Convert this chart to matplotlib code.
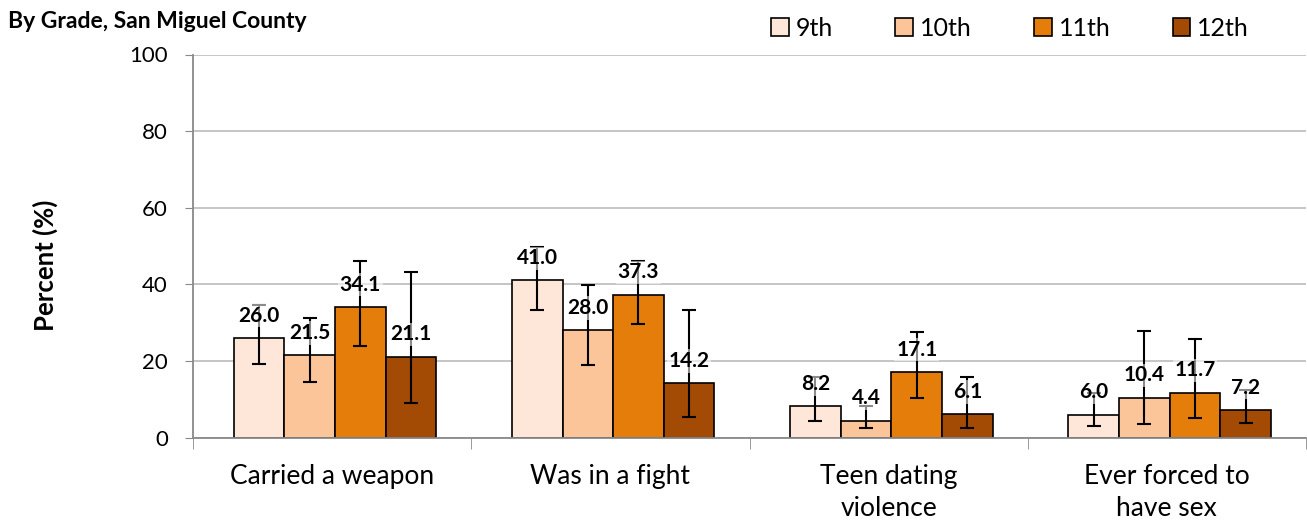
import numpy as np
import matplotlib
matplotlib.use("Agg")
import matplotlib.pyplot as plt
from matplotlib.patches import Patch

plt.rcParams['font.family'] = ['Lato', 'DejaVu Sans']

# data
categories = ["Carried a weapon", "Was in a fight", "Teen dating\nviolence", "Ever forced to\nhave sex"]
grades = ["9th", "10th", "11th", "12th"]
colors = ["#FEE6D9", "#FCC499", "#E47D0A", "#A34A05"]

values = {
    "9th":  [26.0, 41.0, 8.2, 6.0],
    "10th": [21.5, 28.0, 4.4, 10.4],
    "11th": [34.1, 37.3, 17.1, 11.7],
    "12th": [21.1, 14.2, 6.1, 7.2],
}
ci_low = {
    "9th":  [19.3, 33.4, 4.3, 3.0],
    "10th": [14.4, 18.8, 2.4, 3.6],
    "11th": [24.0, 29.7, 10.4, 5.1],
    "12th": [8.9, 5.4, 2.5, 3.7],
}
ci_high = {
    "9th":  [34.5, 49.7, 15.7, 11.5],
    "10th": [31.1, 39.9, 8.2, 27.9],
    "11th": [46.2, 46.0, 27.5, 25.6],
    "12th": [43.1, 33.2, 15.7, 12.3],
}

fig = plt.figure(figsize=(13.07, 5.23), dpi=100)
ax = fig.add_axes([193 / 1307, 1 - 437.5 / 523, 1113 / 1307, 383 / 523])

x = np.arange(len(categories))
w = 0.182
for i, g in enumerate(grades):
    xs = x + (i - 1.5) * w + 0.01
    vals = np.array(values[g])
    lo = vals - np.array(ci_low[g])
    hi = np.array(ci_high[g]) - vals
    ax.bar(xs, vals, w, color=colors[i], edgecolor="black", linewidth=1.2, zorder=2)
    ax.errorbar(xs, vals, yerr=[lo, hi], fmt="none", ecolor="black",
                elinewidth=1.5, capsize=5, capthick=1.5, zorder=3)
    for xv, v in zip(xs, vals):
        ax.annotate(f"{v:.1f}", (xv, v), xytext=(0, 16), textcoords="offset points",
                    ha="center", va="center", fontsize=15, fontweight="bold", zorder=4,
                    bbox=dict(boxstyle="square,pad=0.08", fc="white", ec="none", alpha=0.55))

ax.set_ylim(0, 100)
ax.set_xlim(-0.5, 3.5)
ax.set_yticks([0, 20, 40, 60, 80, 100])
ax.tick_params(axis="y", labelsize=16, length=6, color="#898989", pad=12)
ax.yaxis.grid(True, color="#C0C0C0", linewidth=1.3, zorder=0)
ax.set_axisbelow(True)

ax.set_xticks(x)
ax.set_xticklabels(categories, fontsize=19, linespacing=1.38)
ax.tick_params(axis="x", which="major", length=0, pad=19)
ax.set_xticks(np.arange(-0.5, 4.0, 1.0), minor=True)
ax.tick_params(axis="x", which="minor", length=8, color="#898989")

for s in ["top", "right"]:
    ax.spines[s].set_visible(False)
for s in ["left", "bottom"]:
    ax.spines[s].set_color("#898989")
    ax.spines[s].set_linewidth(1.3)

fig.text(45 / 1307, 1 - 265 / 523, "Percent (%)", rotation=90, ha="center", va="center",
         fontsize=18.5, fontweight="bold")
fig.text(8 / 1307, 1 - 22 / 523, "By Grade, San Miguel County", ha="left", va="center",
         fontsize=16.5, fontweight="bold")

handles = [Patch(facecolor=c, edgecolor="black", linewidth=1.2) for c in colors]
fig.legend(handles, grades, loc="center left", bbox_to_anchor=(771 / 1307, 1 - 28 / 523),
           ncol=4, frameon=False, fontsize=18, handlelength=0.7, handleheight=0.7,
           handletextpad=0.28, columnspacing=2.5, borderpad=0, borderaxespad=0)

fig.savefig("out.png", dpi=100)
